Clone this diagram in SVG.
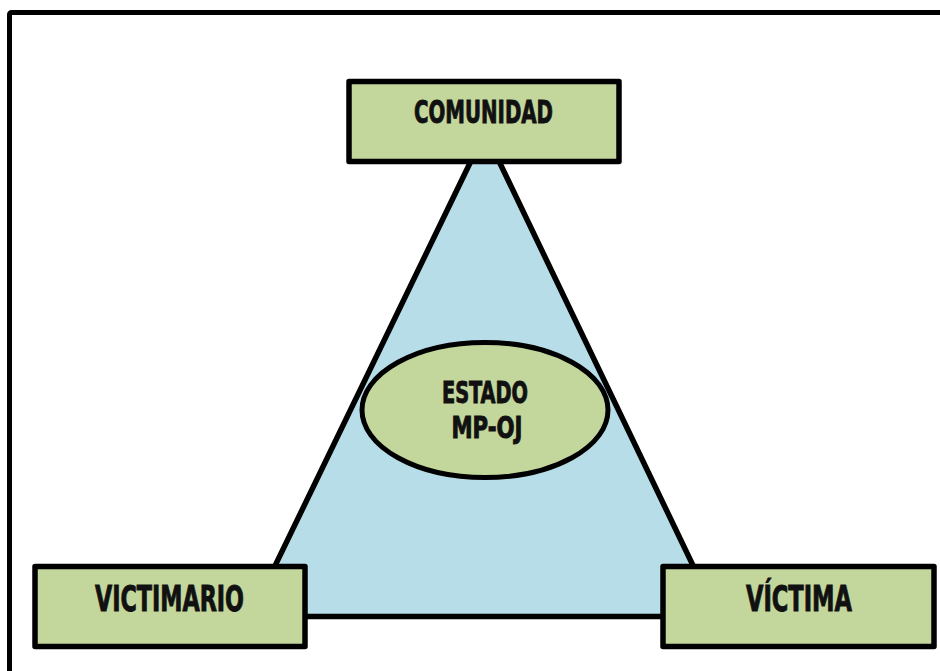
<svg xmlns="http://www.w3.org/2000/svg" width="940" height="671" viewBox="0 0 940 671">
<style>
.box{fill:#c3d69b;stroke:#000;stroke-width:5.5;stroke-linejoin:round}
.lbl{font-family:"Liberation Sans Narrow","DejaVu Sans Condensed","Liberation Sans",sans-serif;font-weight:bold;fill:#111;stroke:#111;stroke-width:0.9;text-anchor:middle}
</style>
<rect width="940" height="671" fill="#fff"/>
<rect x="9.5" y="12.5" width="960" height="700" fill="none" stroke="#000" stroke-width="5" rx="2"/>
<g id="connectors">
<polygon id="triangle" points="485,132 250.5,616.5 717.5,616.5" fill="#b7dde8" stroke="#000" stroke-width="5.5" stroke-linejoin="miter"/>
</g>
<g id="estado">
<ellipse cx="485" cy="410" rx="123" ry="67.5" fill="#c3d69b" stroke="#000" stroke-width="5"/>
<text class="lbl" x="485" y="402.7" font-size="30" textLength="86" lengthAdjust="spacingAndGlyphs">ESTADO</text>
<text class="lbl" x="487" y="438" font-size="30" textLength="71" lengthAdjust="spacingAndGlyphs">MP-OJ</text>
</g>
<g id="comunidad">
<rect class="box" x="349" y="81.5" width="270" height="80"/>
<text class="lbl" x="483.5" y="123" font-size="32" textLength="139" lengthAdjust="spacingAndGlyphs">COMUNIDAD</text>
</g>
<g id="victimario">
<rect class="box" x="35" y="566.5" width="270" height="80"/>
<text class="lbl" x="169.5" y="611" font-size="36" textLength="149" lengthAdjust="spacingAndGlyphs">VICTIMARIO</text>
</g>
<g id="victima">
<rect class="box" x="663" y="566.5" width="271" height="80"/>
<text class="lbl" x="799" y="611" font-size="36" textLength="106" lengthAdjust="spacingAndGlyphs">VÍCTIMA</text>
</g>
</svg>
